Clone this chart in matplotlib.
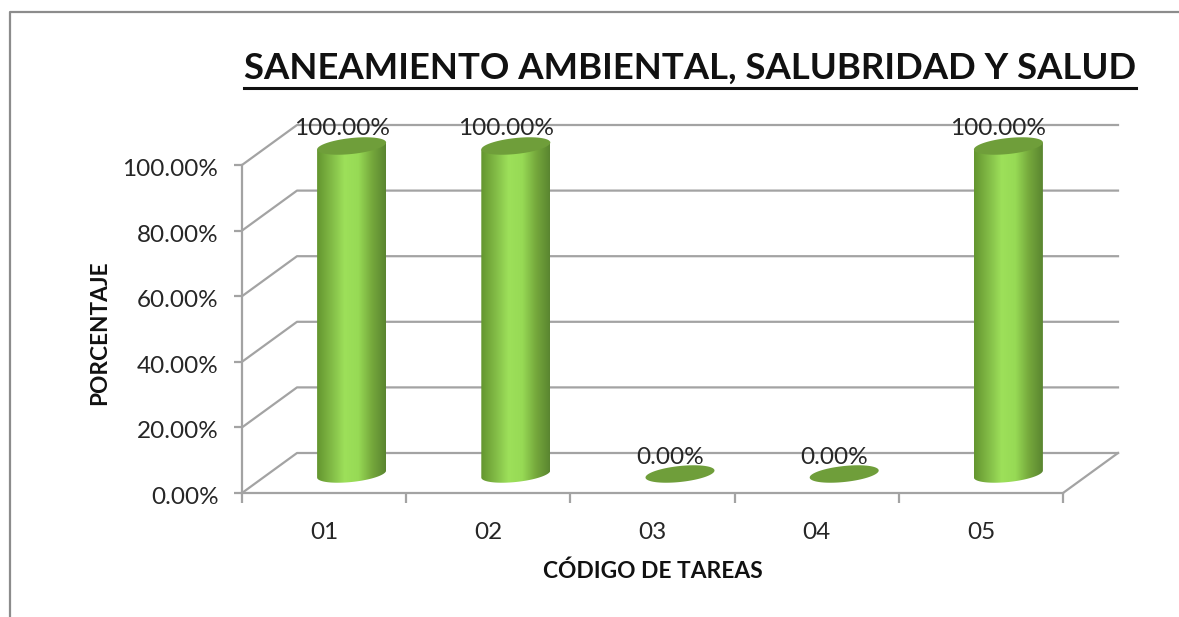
import numpy as np
import matplotlib
matplotlib.use('Agg')
import matplotlib.pyplot as plt
from matplotlib.colors import LinearSegmentedColormap
from matplotlib.lines import Line2D
from matplotlib.patches import Polygon
from matplotlib.transforms import ScaledTranslation

categories = ['01', '02', '03', '04', '05']
values = [100.0, 100.0, 0.0, 0.0, 100.0]
y_ticks = [0, 20, 40, 60, 80, 100]
y_tick_labels = ['0.00%', '20.00%', '40.00%', '60.00%', '80.00%', '100.00%']

W, H = 1179, 617
plt.rcParams['font.family'] = ['Lato', 'DejaVu Sans']
GRID = '#a3a3a3'
TEXT = '#262626'

fig = plt.figure(figsize=(W / 100, H / 100), dpi=100)
ax = fig.add_axes([242 / W, 1 - 493 / H, 821 / W, 328 / H])

# one category = 164.2 px, 100% = 328 px
px_x = 5 / 821
px_y = 100 / 328
depth_x = 55 * px_x
depth_y = 40 * px_y

# outer frame of the chart, only top and left are visible
fig.add_artist(Line2D([10 / W, 10 / W, 1], [0, 1 - 12 / H, 1 - 12 / H], color='#8c8c8c', lw=1.6))

# back wall lines and side wall diagonals
for t in y_ticks:
    ax.plot([0, depth_x, 5 + depth_x], [t, t + depth_y, t + depth_y], color=GRID, lw=1.6, clip_on=False, zorder=1)
ax.plot([5, 5 + depth_x], [0, depth_y], color=GRID, lw=1.6, clip_on=False, zorder=1)

# cylinders
cyl = LinearSegmentedColormap.from_list('cyl', ['#64952f', '#80b945', '#9de05a', '#97da55', '#75a83c', '#5a8530'])
grad = np.linspace(0, 1, 256).reshape(1, -1)
a = 34.5 * px_x
b = 8 * px_y
k = 3.5 * px_y
t = np.linspace(0, 2 * np.pi, 121)
ex = a * np.cos(t)
ey = b * np.sin(t) + k * np.cos(t)
lower = np.linspace(np.pi, 2 * np.pi, 61)
lx = a * np.cos(lower)
ly = b * np.sin(lower) + k * np.cos(lower)

for i, v in enumerate(values):
    cx = i + 0.5 + depth_x / 2
    base = depth_y / 2 - 1 * px_y
    if v > 0:
        body = np.column_stack([
            np.r_[cx + lx, cx + a, cx - a],
            np.r_[base + ly, base + v + k, base + v - k],
        ])
        shape = Polygon(body, closed=True, fc='none', ec='none', transform=ax.transData)
        ax.add_patch(shape)
        im = ax.imshow(grad, cmap=cyl, aspect='auto', extent=[cx - a, cx + a, base - 15 * px_y, base + v + 15 * px_y], zorder=3)
        # the image would otherwise stop at the axes top
        im.set_clip_box(fig.bbox)
        im.set_clip_path(shape)
    ax.fill(cx + ex, base + v + ey, color='#6f9e3a', lw=0, clip_on=False, zorder=4)
    ax.text(cx - 10 * px_x, base + v + 17 * px_y, '%.2f%%' % v, ha='center', va='center', fontsize=17.6, color=TEXT, clip_on=False, zorder=5)

ax.set_xlim(0, 5)
ax.set_ylim(0, 100)
ax.patch.set_alpha(0)

for s in ['top', 'right']:
    ax.spines[s].set_visible(False)
for s in ['left', 'bottom']:
    ax.spines[s].set_color(GRID)
    ax.spines[s].set_linewidth(1.6)

ax.set_yticks(y_ticks)
ax.set_yticklabels(y_tick_labels, fontsize=17.5, color=TEXT)
ax.tick_params(axis='y', length=6, width=1.6, color=GRID, pad=11)
shift = ScaledTranslation(0, -2.5 / 100, fig.dpi_scale_trans)
for lab in ax.get_yticklabels():
    lab.set_transform(lab.get_transform() + shift)
ax.set_xticks(range(6))
ax.set_xticklabels([])
ax.tick_params(axis='x', which='major', length=7, width=1.6, color=GRID)
ax.set_xticks([i + 0.5 for i in range(5)], minor=True)
ax.set_xticklabels(categories, minor=True, fontsize=17.5, color=TEXT)
ax.tick_params(axis='x', which='minor', length=0, pad=21)

ax.set_xlabel('CÓDIGO DE TAREAS', fontsize=16.4, fontweight='bold', color='#111111')
ax.xaxis.set_label_coords(0.5, -78 / 328, transform=ax.transAxes)
ax.xaxis.label.set_va('center')
ax.set_ylabel('PORCENTAJE', fontsize=16.3, fontweight='bold', color='#111111')
ax.yaxis.set_label_coords(-142 / 821, 0.49, transform=ax.transAxes)
ax.yaxis.label.set_va('center')

title = fig.text(690 / W, 1 - 68 / H, 'SANEAMIENTO AMBIENTAL, SALUBRIDAD Y SALUD', ha='center', va='center',
                 fontsize=26.3, fontweight='bold', color='#111111')
fig.canvas.draw()
tb = title.get_window_extent()
fig.add_artist(Line2D([tb.x0 / W, tb.x1 / W], [1 - 88 / H, 1 - 88 / H], color='#111111', lw=2.2))

fig.savefig('out.png', dpi=100)
